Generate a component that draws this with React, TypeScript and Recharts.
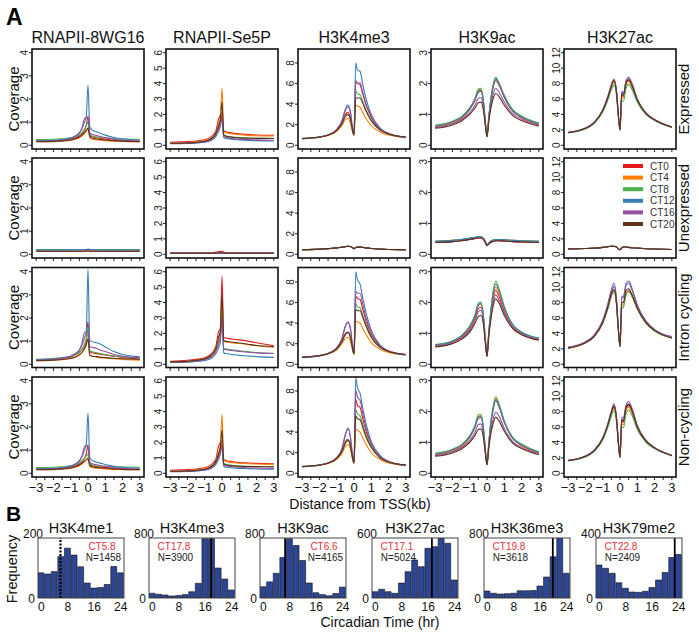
import React from "react";
import { LineChart, Line, XAxis, YAxis, BarChart, Bar, ReferenceLine } from "recharts";

// distance from TSS (kb) sample points
const DIST = [-3, -2, -1.5, -1, -0.7, -0.5, -0.35, -0.2, -0.1, 0, 0.1, 0.2, 0.35, 0.5, 0.7, 1, 1.5, 2, 3];
const SERIES = ["CT0", "CT4", "CT8", "CT12", "CT16", "CT20"];
const COLORS = ["#e41a1c", "#ff7f00", "#4daf4a", "#377eb8", "#984ea3", "#5b3418"];
const MARKS = ["RNAPII-8WG16", "RNAPII-Se5P", "H3K4me3", "H3K9ac", "H3K27ac"];
const GROUPS = ["Expressed", "Unexpressed", "Intron cycling", "Non-cycling"];
const Y_LIMIT = [4, 6, 9, 3, 12];
const Y_TICKS = [[0, 1, 2, 3, 4], [0, 1, 2, 3, 4, 5, 6], [0, 2, 4, 6, 8], [0, 1, 2, 3], [0, 2, 4, 6, 8, 10, 12]];
const X_TICKS = [-3, -2.5, -2, -1.5, -1, -0.5, 0, 0.5, 1, 1.5, 2, 2.5, 3];

// ---- Expressed
const expr8wg16 = [
  [.17, .19, .21, .26, .32, .40, .50, .65, .85, 1.25, .45, .38, .35, .33, .30, .27, .22, .20, .17],
  [.15, .16, .18, .22, .27, .33, .40, .50, .60, .70, .35, .28, .25, .24, .22, .20, .18, .17, .15],
  [.25, .26, .28, .32, .38, .45, .55, .70, .85, 1.00, .50, .42, .38, .36, .34, .32, .29, .27, .26],
  [.20, .22, .25, .32, .42, .55, .72, 1.00, 1.25, 2.60, .80, .68, .62, .58, .52, .44, .34, .28, .22],
  [.17, .19, .22, .28, .38, .52, .75, 1.15, 1.20, 1.20, .55, .48, .45, .42, .38, .33, .26, .22, .18],
  [.15, .17, .19, .23, .29, .36, .44, .55, .65, .75, .38, .32, .29, .27, .25, .23, .20, .18, .16],
];
const exprSe5p = [
  [.20, .24, .28, .36, .50, .70, .95, 1.70, 1.95, 2.10, .95, .90, .85, .82, .78, .74, .70, .67, .65],
  [.15, .18, .22, .30, .42, .60, .85, 1.30, 1.80, 3.70, .90, .82, .78, .75, .72, .68, .64, .62, .60],
  [.12, .15, .18, .25, .36, .52, .75, 1.15, 1.50, 2.00, .70, .62, .58, .56, .53, .50, .48, .46, .45],
  [.10, .12, .15, .20, .28, .40, .58, .90, 1.20, 1.80, .50, .45, .42, .40, .37, .35, .32, .30, .28],
  [.12, .14, .17, .23, .33, .48, .70, 1.05, 1.35, 1.90, .58, .52, .48, .45, .42, .40, .37, .35, .33],
  [.13, .15, .19, .26, .38, .55, .80, 1.25, 1.65, 2.80, .68, .60, .56, .54, .51, .48, .46, .45, .44],
];
const exprK4me3 = [
  [.65, .80, 1.0, 1.5, 2.2, 3.0, 3.2, 2.6, 1.6, 1.0, 6.3, 6.0, 5.9, 5.0, 3.9, 2.7, 1.6, 1.15, .80],
  [.65, .78, .95, 1.35, 1.9, 2.5, 2.6, 2.1, 1.4, 1.0, 3.9, 3.8, 3.7, 3.2, 2.6, 1.9, 1.3, 1.0, .75],
  [.68, .82, 1.0, 1.45, 2.1, 2.9, 3.0, 2.5, 1.6, 1.0, 5.3, 5.0, 4.9, 4.3, 3.4, 2.4, 1.5, 1.1, .82],
  [.62, .78, 1.0, 1.55, 2.4, 3.5, 3.9, 3.2, 1.9, 1.1, 8.0, 7.3, 7.2, 6.0, 4.5, 3.0, 1.7, 1.15, .75],
  [.64, .80, 1.0, 1.5, 2.3, 3.4, 3.75, 3.1, 1.8, 1.05, 6.2, 6.0, 6.1, 5.2, 4.0, 2.8, 1.6, 1.15, .78],
  [.66, .80, .98, 1.45, 2.1, 2.8, 3.0, 2.5, 1.6, 1.0, 4.6, 4.6, 4.6, 4.1, 3.3, 2.4, 1.5, 1.1, .80],
];
const exprK9ac = [
  [.58, .72, .85, 1.15, 1.45, 1.72, 1.75, 1.35, .75, .28, .85, 1.35, 1.85, 2.10, 1.95, 1.55, 1.10, .90, .68],
  [.60, .74, .88, 1.18, 1.50, 1.80, 1.82, 1.40, .78, .28, .88, 1.40, 1.92, 2.18, 2.00, 1.60, 1.13, .92, .70],
  [.65, .78, .92, 1.22, 1.52, 1.82, 1.85, 1.42, .80, .28, .90, 1.42, 1.95, 2.20, 2.02, 1.62, 1.15, .95, .72],
  [.62, .76, .90, 1.18, 1.48, 1.75, 1.78, 1.38, .78, .28, .88, 1.38, 1.90, 2.15, 1.98, 1.58, 1.12, .92, .70],
  [.58, .70, .82, 1.05, 1.30, 1.52, 1.55, 1.20, .70, .28, .80, 1.22, 1.65, 1.85, 1.72, 1.40, 1.02, .85, .66],
  [.55, .66, .78, 1.00, 1.20, 1.38, 1.40, 1.10, .65, .28, .75, 1.12, 1.50, 1.68, 1.58, 1.30, .96, .80, .62],
];
const exprK27ac = [
  [1.65, 2.2, 2.9, 4.5, 6.2, 7.6, 8.3, 6.8, 4.0, 2.0, 6.5, 6.3, 8.0, 8.4, 7.6, 5.8, 4.1, 3.3, 2.35],
  [1.65, 2.2, 2.9, 4.5, 6.2, 7.6, 8.2, 6.7, 4.0, 2.0, 6.2, 6.1, 7.8, 8.3, 7.5, 5.8, 4.1, 3.3, 2.35],
  [1.6, 2.1, 2.8, 4.3, 5.9, 7.2, 7.8, 6.4, 3.9, 2.0, 5.8, 5.7, 7.4, 7.9, 7.2, 5.6, 4.0, 3.2, 2.3],
  [1.65, 2.2, 2.9, 4.5, 6.2, 7.7, 8.4, 6.9, 4.1, 2.0, 6.8, 6.6, 8.2, 8.6, 7.8, 5.9, 4.2, 3.3, 2.35],
  [1.7, 2.25, 3.0, 4.6, 6.4, 7.9, 8.6, 7.0, 4.1, 2.0, 7.0, 6.8, 8.4, 8.8, 8.0, 6.0, 4.2, 3.35, 2.4],
  [1.65, 2.2, 2.9, 4.5, 6.2, 7.7, 8.4, 6.8, 4.0, 2.0, 6.6, 6.5, 8.1, 8.5, 7.7, 5.9, 4.1, 3.3, 2.35],
];

// ---- Unexpressed (curves lie on top of each other)
const un8wg16Lo = [.13, .13, .13, .13, .13, .13, .13, .14, .14, .15, .14, .13, .13, .13, .13, .13, .13, .13, .13];
const un8wg16Hi = [.19, .19, .19, .19, .19, .20, .20, .21, .21, .22, .21, .20, .20, .19, .19, .19, .19, .19, .19];
const unSe5pLo = [.07, .07, .07, .07, .07, .07, .08, .08, .09, .10, .08, .07, .07, .07, .07, .07, .07, .07, .07];
const unSe5pHi = [.10, .10, .10, .10, .11, .12, .14, .17, .18, .18, .14, .12, .11, .11, .10, .10, .10, .10, .10];
const unK4me3 = [.45, .50, .55, .62, .70, .75, .78, .75, .65, .55, .65, .70, .70, .68, .62, .56, .50, .47, .45];
const unK9acHi = [.42, .45, .48, .52, .55, .57, .57, .52, .42, .30, .36, .42, .46, .48, .48, .47, .45, .44, .42];
const unK9acLo = [.38, .41, .44, .48, .51, .53, .53, .48, .39, .28, .33, .38, .42, .44, .44, .43, .41, .40, .38];
const unK27ac = [.70, .75, .80, .90, 1.0, 1.05, 1.05, .95, .70, .60, .85, .95, .95, .90, .85, .80, .72, .68, .62];

// ---- Intron cycling
const cyc8wg16 = [
  [.18, .22, .26, .32, .42, .52, .65, .85, 1.10, 1.85, .55, .50, .48, .46, .44, .40, .35, .30, .22],
  [.15, .18, .20, .25, .32, .40, .50, .65, .85, 1.50, .40, .35, .33, .31, .29, .27, .24, .21, .18],
  [.22, .25, .28, .34, .42, .52, .64, .80, 1.00, 1.60, .60, .55, .52, .50, .47, .42, .36, .32, .28],
  [.20, .24, .28, .36, .48, .62, .82, 1.15, 1.40, 4.10, 1.05, .98, .95, .93, .88, .75, .55, .42, .32],
  [.18, .22, .26, .34, .46, .62, .90, 1.38, 1.40, 1.45, .78, .74, .72, .68, .62, .55, .42, .35, .28],
  [.15, .18, .21, .26, .33, .42, .52, .68, .85, 1.10, .40, .36, .34, .33, .31, .29, .26, .24, .22],
];
const cycSe5p = [
  [.20, .26, .32, .42, .60, .85, 1.20, 2.10, 2.30, 5.70, 1.75, 1.70, 1.68, 1.65, 1.62, 1.58, 1.50, 1.40, 1.20],
  [.16, .20, .26, .36, .52, .75, 1.05, 1.70, 2.00, 3.80, 1.50, 1.45, 1.43, 1.40, 1.38, 1.35, 1.28, 1.20, 1.10],
  [.14, .18, .23, .32, .45, .65, .92, 1.40, 1.80, 3.40, 1.05, 1.00, .98, .95, .92, .88, .82, .76, .70],
  [.12, .14, .18, .25, .35, .50, .70, 1.05, 1.40, 2.90, .75, .70, .68, .65, .62, .58, .54, .50, .45],
  [.14, .17, .22, .30, .42, .60, .85, 1.30, 1.70, 3.10, 1.00, .95, .93, .90, .88, .84, .78, .74, .70],
  [.16, .20, .26, .36, .52, .75, 1.05, 1.75, 2.10, 4.60, 1.55, 1.50, 1.48, 1.45, 1.42, 1.38, 1.30, 1.22, 1.15],
];
const cycK4me3 = [
  [.70, .85, 1.05, 1.55, 2.3, 3.0, 3.1, 2.6, 1.7, 1.0, 6.6, 6.4, 6.3, 5.4, 4.2, 2.9, 1.8, 1.3, .95],
  [.68, .82, 1.0, 1.4, 2.0, 2.5, 2.6, 2.2, 1.5, 1.0, 4.2, 4.1, 4.0, 3.5, 2.9, 2.1, 1.45, 1.15, .90],
  [.70, .86, 1.05, 1.5, 2.2, 2.9, 3.1, 2.6, 1.7, 1.0, 5.9, 5.6, 5.5, 4.8, 3.8, 2.7, 1.7, 1.25, .95],
  [.65, .82, 1.05, 1.6, 2.5, 3.7, 4.1, 3.4, 2.0, 1.1, 9.0, 8.2, 7.8, 6.5, 5.0, 3.3, 1.9, 1.3, .90],
  [.68, .84, 1.05, 1.6, 2.5, 3.7, 4.1, 3.4, 2.0, 1.1, 7.1, 6.9, 6.9, 5.9, 4.5, 3.1, 1.8, 1.3, .95],
  [.70, .85, 1.02, 1.5, 2.2, 2.9, 3.1, 2.6, 1.7, 1.0, 5.3, 5.2, 5.2, 4.6, 3.7, 2.6, 1.65, 1.25, .95],
];
const cycK9ac = [
  [.60, .72, .86, 1.15, 1.48, 1.80, 1.85, 1.42, .80, .26, .95, 1.50, 2.10, 2.40, 2.20, 1.72, 1.20, 1.00, .80],
  [.62, .74, .90, 1.20, 1.55, 1.90, 1.95, 1.50, .82, .26, 1.00, 1.58, 2.20, 2.50, 2.30, 1.80, 1.25, 1.02, .82],
  [.64, .76, .92, 1.24, 1.60, 1.98, 2.02, 1.55, .85, .26, 1.05, 1.65, 2.35, 2.70, 2.45, 1.88, 1.28, 1.05, .84],
  [.63, .75, .91, 1.22, 1.57, 1.92, 1.98, 1.52, .84, .26, 1.02, 1.60, 2.28, 2.60, 2.38, 1.84, 1.27, 1.04, .85],
  [.58, .70, .84, 1.10, 1.40, 1.70, 1.75, 1.35, .76, .26, .92, 1.42, 1.98, 2.25, 2.08, 1.66, 1.18, .98, .80],
  [.56, .67, .80, 1.04, 1.32, 1.55, 1.58, 1.25, .72, .26, .88, 1.35, 1.88, 2.12, 1.98, 1.58, 1.15, .96, .78],
];
const cycK27ac = [
  [2.1, 2.8, 3.6, 5.4, 7.4, 9.0, 9.6, 7.8, 4.6, 2.3, 8.0, 8.0, 9.2, 9.4, 8.8, 7.2, 5.4, 4.4, 3.4],
  [2.1, 2.8, 3.6, 5.4, 7.4, 9.0, 9.7, 7.9, 4.6, 2.3, 7.6, 7.7, 9.2, 9.6, 8.9, 7.3, 5.4, 4.4, 3.4],
  [2.1, 2.8, 3.6, 5.3, 7.2, 8.8, 9.4, 7.6, 4.5, 2.3, 7.2, 7.4, 9.0, 9.5, 8.8, 7.2, 5.3, 4.3, 3.4],
  [2.2, 2.9, 3.7, 5.6, 7.7, 9.4, 10.1, 8.2, 4.8, 2.3, 8.6, 8.6, 10.2, 10.5, 9.6, 7.6, 5.6, 4.5, 3.5],
  [2.2, 2.9, 3.8, 5.7, 7.9, 9.7, 10.5, 8.4, 4.9, 2.3, 8.8, 8.8, 10.5, 10.8, 9.8, 7.7, 5.6, 4.5, 3.6],
  [2.1, 2.8, 3.6, 5.4, 7.4, 9.1, 9.7, 7.9, 4.6, 2.3, 8.0, 8.0, 9.6, 9.8, 9.0, 7.3, 5.4, 4.4, 3.4],
];

// ---- Non-cycling
const non8wg16 = [
  [.17, .19, .21, .26, .32, .40, .50, .65, .85, 1.20, .40, .34, .31, .29, .27, .25, .21, .19, .17],
  [.15, .16, .18, .22, .27, .33, .40, .50, .60, .70, .32, .26, .23, .22, .21, .19, .17, .16, .15],
  [.25, .26, .28, .32, .38, .45, .55, .66, .75, .82, .45, .38, .34, .32, .31, .30, .28, .27, .26],
  [.20, .22, .25, .32, .42, .55, .72, 1.00, 1.25, 2.60, .70, .58, .52, .48, .44, .38, .30, .26, .22],
  [.17, .19, .22, .28, .38, .52, .75, 1.15, 1.20, 1.20, .50, .42, .39, .37, .34, .30, .24, .21, .18],
  [.15, .17, .19, .23, .29, .36, .44, .52, .58, .62, .34, .29, .27, .25, .24, .22, .19, .17, .16],
];
const nonSe5p = [
  [.20, .24, .28, .36, .50, .70, .95, 1.75, 2.00, 2.10, .90, .85, .80, .77, .74, .70, .67, .64, .62],
  [.15, .18, .22, .30, .42, .60, .85, 1.30, 1.80, 3.80, .85, .78, .74, .71, .68, .65, .62, .60, .58],
  [.12, .15, .18, .25, .36, .52, .75, 1.15, 1.50, 2.00, .65, .58, .55, .53, .50, .48, .46, .44, .43],
  [.10, .12, .15, .20, .28, .40, .58, .90, 1.20, 1.80, .45, .40, .38, .36, .34, .32, .30, .28, .26],
  [.12, .14, .17, .23, .33, .48, .70, 1.05, 1.35, 1.90, .55, .50, .46, .44, .41, .39, .36, .34, .32],
  [.13, .15, .19, .26, .38, .55, .80, 1.25, 1.65, 2.80, .62, .56, .52, .50, .48, .46, .44, .43, .42],
];
const nonK4me3 = [
  [.65, .80, 1.0, 1.5, 2.2, 3.1, 3.3, 2.7, 1.7, 1.0, 7.2, 6.6, 6.4, 5.4, 4.1, 2.8, 1.6, 1.15, .80],
  [.65, .78, .95, 1.35, 1.9, 2.6, 2.8, 2.3, 1.5, 1.0, 4.3, 4.2, 4.0, 3.5, 2.8, 2.0, 1.35, 1.0, .75],
  [.68, .82, 1.0, 1.45, 2.1, 3.0, 3.3, 2.7, 1.7, 1.0, 6.2, 5.8, 5.6, 4.8, 3.7, 2.6, 1.55, 1.1, .82],
  [.62, .78, 1.0, 1.55, 2.4, 3.8, 4.4, 3.5, 2.0, 1.1, 9.3, 8.3, 7.8, 6.4, 4.8, 3.1, 1.75, 1.15, .75],
  [.64, .80, 1.0, 1.5, 2.3, 3.7, 4.3, 3.4, 1.9, 1.05, 8.1, 7.4, 7.1, 5.9, 4.4, 2.9, 1.65, 1.15, .78],
  [.66, .80, .98, 1.45, 2.1, 2.9, 3.2, 2.6, 1.65, 1.0, 5.6, 5.3, 5.2, 4.5, 3.5, 2.5, 1.5, 1.1, .80],
];
const nonK9ac = [
  [.58, .72, .85, 1.15, 1.48, 1.78, 1.80, 1.38, .76, .28, .92, 1.50, 2.05, 2.35, 2.15, 1.65, 1.12, .90, .66],
  [.60, .74, .88, 1.18, 1.52, 1.84, 1.86, 1.42, .78, .28, .95, 1.55, 2.10, 2.42, 2.20, 1.68, 1.14, .92, .68],
  [.65, .78, .92, 1.22, 1.55, 1.90, 1.92, 1.45, .80, .28, .96, 1.58, 2.15, 2.48, 2.25, 1.70, 1.16, .95, .70],
  [.62, .76, .90, 1.18, 1.50, 1.82, 1.85, 1.40, .78, .28, .94, 1.52, 2.05, 2.38, 2.18, 1.66, 1.13, .92, .68],
  [.58, .70, .82, 1.05, 1.32, 1.58, 1.60, 1.22, .70, .28, .84, 1.30, 1.75, 1.98, 1.85, 1.45, 1.02, .84, .64],
  [.55, .66, .78, 1.00, 1.22, 1.42, 1.44, 1.12, .66, .28, .78, 1.20, 1.60, 1.82, 1.70, 1.36, .97, .80, .60],
];
const nonK27ac = [
  [1.65, 2.2, 2.9, 4.5, 6.3, 7.8, 8.6, 7.0, 4.1, 2.1, 6.8, 6.6, 8.4, 8.8, 8.0, 6.0, 4.2, 3.3, 2.3],
  [1.65, 2.2, 2.9, 4.5, 6.2, 7.7, 8.4, 6.9, 4.1, 2.1, 6.4, 6.3, 8.1, 8.6, 7.8, 5.9, 4.1, 3.3, 2.3],
  [1.6, 2.1, 2.8, 4.3, 6.0, 7.4, 8.1, 6.6, 4.0, 2.1, 6.0, 5.9, 7.7, 8.2, 7.5, 5.7, 4.0, 3.2, 2.25],
  [1.65, 2.2, 2.9, 4.5, 6.3, 7.9, 8.7, 7.1, 4.2, 2.1, 7.0, 6.9, 8.6, 9.0, 8.2, 6.1, 4.2, 3.3, 2.3],
  [1.7, 2.25, 3.0, 4.6, 6.5, 8.1, 9.0, 7.3, 4.3, 2.1, 7.3, 7.2, 8.9, 9.3, 8.4, 6.2, 4.3, 3.35, 2.35],
  [1.65, 2.2, 2.9, 4.5, 6.3, 7.9, 8.7, 7.0, 4.1, 2.1, 6.9, 6.8, 8.5, 8.9, 8.1, 6.0, 4.2, 3.3, 2.3],
];

const PANELS = [
  [expr8wg16, exprSe5p, exprK4me3, exprK9ac, exprK27ac],
  [
    [un8wg16Lo, un8wg16Lo, un8wg16Hi, un8wg16Hi, un8wg16Lo, un8wg16Lo],
    [unSe5pHi, unSe5pLo, unSe5pLo, unSe5pLo, unSe5pLo, unSe5pLo],
    [unK4me3, unK4me3, unK4me3, unK4me3, unK4me3, unK4me3],
    [unK9acLo, unK9acHi, unK9acHi, unK9acHi, unK9acLo, unK9acLo],
    [unK27ac, unK27ac, unK27ac, unK27ac, unK27ac, unK27ac],
  ],
  [cyc8wg16, cycSe5p, cycK4me3, cycK9ac, cycK27ac],
  [non8wg16, nonSe5p, nonK4me3, nonK9ac, nonK27ac],
];

// ---- Panel B histograms (bins centred on 0, 2, ..., 24 h)
const HIST_BINS = [0, 2, 4, 6, 8, 10, 12, 14, 16, 18, 20, 22, 24];
const HIST_TICKS = [0, 8, 16, 24];
const HIST_TITLES = ["H3K4me1", "H3K4me3", "H3K9ac", "H3K27ac", "H3K36me3", "H3K79me2"];
const HIST_MAX = [200, 800, 800, 600, 800, 400];
const HIST_PEAK = [5.8, 17.8, 6.6, 17.1, 19.8, 22.8];
const HIST_N = [1458, 3900, 4165, 5024, 3618, 2409];
const k4me1Counts = [84, 80, 88, 138, 166, 143, 104, 50, 33, 35, 45, 105, 84];
const k4me3Counts = [63, 50, 40, 27, 33, 45, 84, 196, 790, 790, 400, 253, 107];
const k9acCounts = [150, 215, 330, 540, 790, 700, 500, 200, 70, 45, 30, 60, 145];
const k27acCounts = [63, 87, 63, 47, 150, 263, 380, 313, 497, 513, 600, 547, 180];
const k36me3Counts = [93, 63, 53, 57, 63, 97, 97, 100, 160, 280, 550, 800, 330];
const k79me2Counts = [220, 198, 165, 102, 65, 40, 38, 45, 70, 120, 170, 270, 290];
const HIST_COUNTS = [k4me1Counts, k4me3Counts, k9acCounts, k27acCounts, k36me3Counts, k79me2Counts];

// layout
const FONT = '"Liberation Sans", Arial, Helvetica, sans-serif';
const COL_X = [32, 166, 298, 431, 564];
const ROW_Y = [49, 158, 267.5, 377];
const BOX_W = 112;
const BOX_H = 100;
const H_X = [38, 149, 260, 372, 484, 596];
const H_Y = 538;
const H_W = 86;
const H_H = 60;

const fmt = (v: number) => (v < 0 ? "\u2212" + Math.abs(v) : String(v));

function Profile({ row, col }: { row: number; col: number }) {
  const L = 30, T = 4, R = 4, B = 24;
  const series = PANELS[row][col];
  const data = DIST.map((d, j) => {
    const p: Record<string, number> = { d };
    SERIES.forEach((s, i) => (p[s] = series[i][j]));
    return p;
  });
  const ymax = Y_LIMIT[col];
  return (
    <div style={{ position: "absolute", left: COL_X[col] - L, top: ROW_Y[row] - T }}>
      <LineChart width={BOX_W + L + R} height={BOX_H + T + B} data={data} margin={{ top: T, right: R, bottom: 0, left: 0 }}>
        <XAxis
          dataKey="d"
          type="number"
          domain={[-3.24, 3.24]}
          allowDataOverflow
          ticks={X_TICKS}
          interval={0}
          height={B}
          axisLine={false}
          tickSize={3}
          tickLine={{ stroke: "#222" }}
          tick={(p: any) =>
            row === 3 && Number.isInteger(p.payload.value) ? (
              <text x={p.x} y={T + BOX_H + 14.5} textAnchor="middle" fontSize={13} fill="#111" fontFamily={FONT}>
                {fmt(p.payload.value)}
              </text>
            ) : (
              <g />
            )
          }
        />
        <YAxis
          type="number"
          width={L}
          domain={[-0.04 * ymax, 1.04 * ymax]}
          allowDataOverflow
          ticks={Y_TICKS[col]}
          interval={0}
          axisLine={false}
          tickSize={3}
          tickLine={{ stroke: "#222" }}
          tick={(p: any) => (
            <text
              transform={`translate(${L - 4.5},${p.y}) rotate(-90)`}
              textAnchor="middle"
              fontSize={10}
              fill="#222"
              fontFamily={FONT}
            >
              {p.payload.value}
            </text>
          )}
        />
        {SERIES.map((s, i) => (
          <Line
            key={s}
            dataKey={s}
            type="monotone"
            stroke={COLORS[i]}
            strokeWidth={1.1}
            dot={false}
            isAnimationActive={false}
          />
        ))}
      </LineChart>
    </div>
  );
}

function Histogram({ i }: { i: number }) {
  const L = 40, T = 14, R = 4, B = 22;
  const data = HIST_BINS.map((t, j) => ({ t, count: HIST_COUNTS[i][j] }));
  return (
    <div style={{ position: "absolute", left: H_X[i] - L, top: H_Y - T }}>
      <BarChart
        width={H_W + L + R}
        height={H_H + T + B}
        data={data}
        margin={{ top: T, right: R, bottom: 0, left: 0 }}
        barGap={0}
      >
        <XAxis
          dataKey="t"
          type="number"
          domain={[-1, 25]}
          allowDataOverflow
          ticks={HIST_TICKS}
          interval={0}
          height={B}
          axisLine={false}
          tickLine={false}
          tick={(p: any) => (
            <text x={p.x} y={T + H_H + 13} textAnchor="middle" fontSize={12} fill="#111" fontFamily={FONT}>
              {p.payload.value}
            </text>
          )}
        />
        <YAxis
          width={L}
          domain={[0, HIST_MAX[i]]}
          allowDataOverflow
          ticks={[0, HIST_MAX[i]]}
          axisLine={false}
          tickLine={false}
          tick={(p: any) =>
            p.payload.value === 0 ? (
              <text x={L - 3} y={p.y + 4.5} textAnchor="end" fontSize={12} fill="#111" fontFamily={FONT}>
                0
              </text>
            ) : (
              <text x={L + 5} y={p.y} textAnchor="end" fontSize={12} fill="#111" fontFamily={FONT}>
                {p.payload.value}
              </text>
            )
          }
        />
        <Bar
          dataKey="count"
          barSize={H_W / HIST_BINS.length}
          fill="#2c4594"
          stroke="#111"
          strokeWidth={0.6}
          isAnimationActive={false}
        />
        <ReferenceLine
          x={HIST_PEAK[i]}
          stroke="#000"
          strokeWidth={i === 0 ? 2.2 : 1.8}
          strokeDasharray={i === 0 ? "2 1.5" : undefined}
        />
      </BarChart>
    </div>
  );
}

export default function App() {
  const rowMid = ROW_Y.map((y) => y + BOX_H / 2);
  const textRight = [true, false, true, false, false, false];
  return (
    <div style={{ position: "absolute", left: 0, top: 0, width: 699, height: 634, background: "#fff", fontFamily: FONT }}>
      {ROW_Y.map((_, r) => COL_X.map((__, c) => <Profile key={`${r}-${c}`} row={r} col={c} />))}
      {H_X.map((_, i) => (
        <Histogram key={i} i={i} />
      ))}
      <svg width={699} height={634} style={{ position: "absolute", left: 0, top: 0, pointerEvents: "none" }} fontFamily={FONT}>
        <text x={6} y={25} fontSize={23} fontWeight="bold">A</text>
        <text x={6} y={521} fontSize={21} fontWeight="bold">B</text>
        {MARKS.map((m, c) => (
          <text key={m} x={COL_X[c] + BOX_W / 2} y={43} fontSize={16} textAnchor="middle" fill="#111">
            {m}
          </text>
        ))}
        {ROW_Y.map((y, r) =>
          COL_X.map((x, c) => (
            <rect key={`b${r}-${c}`} x={x} y={y} width={BOX_W} height={BOX_H} fill="none" stroke="#111" strokeWidth={1.6} />
          ))
        )}
        {rowMid.map((y, r) => (
          <g key={`lab${r}`}>
            <text transform={`translate(18.5,${y}) rotate(-90)`} textAnchor="middle" fontSize={15} fill="#111">
              Coverage
            </text>
            <text transform={`translate(689,${y}) rotate(-90)`} textAnchor="middle" fontSize={15} fill="#111">
              {GROUPS[r]}
            </text>
          </g>
        ))}
        <text x={360} y={509} textAnchor="middle" fontSize={14} fill="#111">
          Distance from TSS(kb)
        </text>
        {SERIES.map((s, i) => (
          <g key={`leg${s}`}>
            <line x1={623} x2={643} y1={166 + i * 11.6} y2={166 + i * 11.6} stroke={COLORS[i]} strokeWidth={4} />
            <text x={650} y={166 + i * 11.6 + 3.5} fontSize={10} fill="#333">
              {s}
            </text>
          </g>
        ))}
        {H_X.map((x, i) => {
          const cx = textRight[i] ? x + H_W - 22 : x + 25;
          return (
            <g key={`h${i}`}>
              <rect x={x} y={H_Y} width={H_W} height={H_H} fill="none" stroke="#444" strokeWidth={1} />
              <text x={x + H_W / 2} y={533} textAnchor="middle" fontSize={14.5} fill="#111">
                {HIST_TITLES[i]}
              </text>
              <text x={cx} y={550} textAnchor="middle" fontSize={10} fill="#e0303a">
                CT{HIST_PEAK[i]}
              </text>
              <text x={cx + 1.5} y={561} textAnchor="middle" fontSize={10} fill="#222">
                N={HIST_N[i]}
              </text>
            </g>
          );
        })}
        <text transform="translate(17,569) rotate(-90)" textAnchor="middle" fontSize={14.5} fill="#111">
          Frequency
        </text>
        <text x={380} y={627} textAnchor="middle" fontSize={14} fill="#111">
          Circadian Time (hr)
        </text>
      </svg>
    </div>
  );
}
